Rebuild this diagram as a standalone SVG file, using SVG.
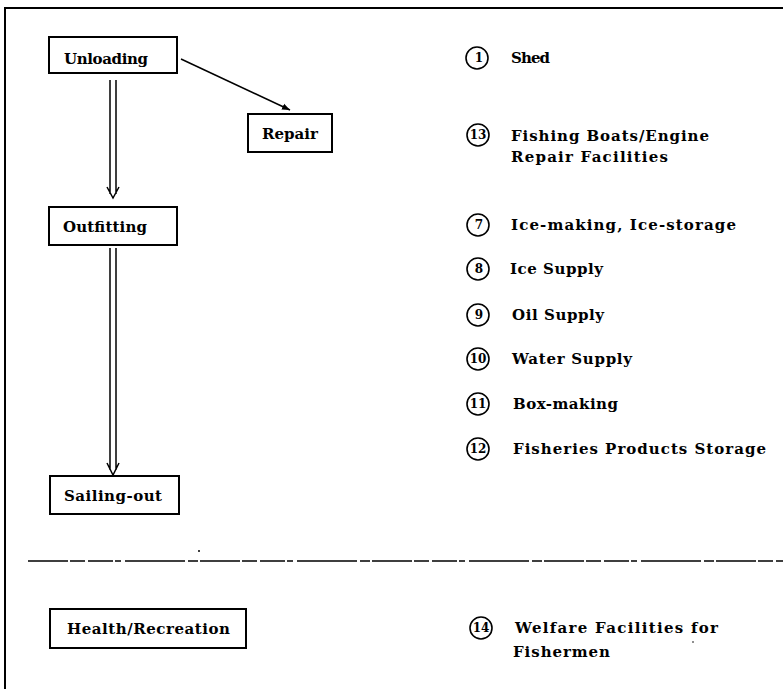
<svg xmlns="http://www.w3.org/2000/svg" width="783" height="689" viewBox="0 0 783 689">
<style>
.box{fill:#fff;stroke:#000;stroke-width:2}
.t{font-family:"DejaVu Serif","Liberation Serif",serif;font-weight:bold;font-size:15px;fill:#000}
.n{font-family:"DejaVu Serif","Liberation Serif",serif;font-weight:bold;font-size:12px;fill:#000;text-anchor:middle}
.c{fill:none;stroke:#000;stroke-width:1.6}
.ln{fill:none;stroke:#000;stroke-width:1.5}
</style>
<defs>
<marker id="ah" viewBox="0 0 10 10" refX="10" refY="5" markerWidth="8" markerHeight="8" orient="auto" markerUnits="userSpaceOnUse">
<path d="M0,1 L10,5 L0,9 Z" fill="#000"/>
</marker>
</defs>
<rect width="783" height="689" fill="#fff"/>
<g id="frame">
<path d="M5,689 V8 H783" fill="none" stroke="#000" stroke-width="2"/>
</g>
<g id="connectors">
<line class="ln" x1="181" y1="59" x2="290" y2="110" marker-end="url(#ah)"/>
<path class="ln" d="M110,80 V194 M116,80 V194 M107,187 L113,198 L119,187"/>
<path class="ln" d="M110,248 V470 M116,248 V470 M107,463 L113,475 L119,463"/>
</g>
<g id="unloading"><rect class="box" x="49" y="37" width="128" height="36"/><text class="t" x="64" y="64" textLength="84">Unloading</text></g>
<g id="repair"><rect class="box" x="248" y="114" width="84" height="38"/><text class="t" x="290" y="139" text-anchor="middle">Repair</text></g>
<g id="outfitting"><rect class="box" x="49" y="207" width="128" height="38"/><text class="t" x="63" y="232" textLength="84">Outfitting</text></g>
<g id="sailing-out"><rect class="box" x="50" y="476" width="129" height="38"/><text class="t" x="64" y="501" textLength="98">Sailing-out</text></g>
<g id="separator">
<line x1="28" y1="561" x2="783" y2="561" stroke="#000" stroke-width="1.5" stroke-dasharray="40 2 15 3 25 2 6 4 60 3 10 2"/>
<circle cx="199" cy="551" r="1" fill="#000"/>
</g>
<g id="health-recreation"><rect class="box" x="50" y="609" width="196" height="39"/><text class="t" x="67" y="634" textLength="163">Health/Recreation</text></g>
<g id="item-1"><circle class="c" cx="477" cy="58" r="11"/><text class="n" x="479" y="62">1</text><text class="t" x="511" y="63" textLength="39">Shed</text></g>
<g id="item-13"><circle class="c" cx="478" cy="135" r="11"/><text class="n" x="478" y="139">13</text><text class="t" x="511" y="141" textLength="198">Fishing Boats/Engine</text><text class="t" x="511" y="162" textLength="157">Repair Facilities</text></g>
<g id="item-7"><circle class="c" cx="478" cy="225" r="11"/><text class="n" x="479" y="229">7</text><text class="t" x="511" y="230" textLength="225">Ice-making, Ice-storage</text></g>
<g id="item-8"><circle class="c" cx="478" cy="269" r="11"/><text class="n" x="479" y="273">8</text><text class="t" x="510" y="274" textLength="93">Ice Supply</text></g>
<g id="item-9"><circle class="c" cx="478" cy="315" r="11"/><text class="n" x="479" y="319">9</text><text class="t" x="512" y="320" textLength="92">Oil Supply</text></g>
<g id="item-10"><circle class="c" cx="478" cy="359" r="11"/><text class="n" x="478" y="363">10</text><text class="t" x="512" y="364" textLength="120">Water Supply</text></g>
<g id="item-11"><circle class="c" cx="478" cy="404" r="11"/><text class="n" x="478" y="408">11</text><text class="t" x="513" y="409" textLength="105">Box-making</text></g>
<g id="item-12"><circle class="c" cx="478" cy="449" r="11"/><text class="n" x="478" y="453">12</text><text class="t" x="513" y="454" textLength="253">Fisheries Products Storage</text></g>
<g id="item-14"><circle class="c" cx="481" cy="628" r="11"/><text class="n" x="481" y="632">14</text><text class="t" x="515" y="633" textLength="203">Welfare Facilities for</text><text class="t" x="513" y="657" textLength="97">Fishermen</text><circle cx="693" cy="642" r="0.8" fill="#000"/></g>
</svg>
